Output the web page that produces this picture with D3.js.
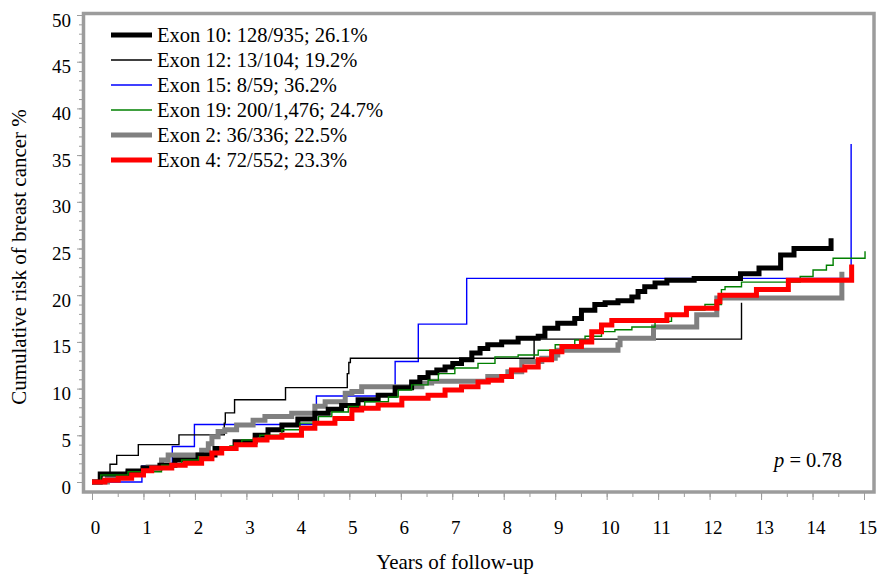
<!DOCTYPE html>
<html>
<head>
<meta charset="utf-8">
<script src="https://cdn.jsdelivr.net/npm/d3@7"></script>
<style>
  body { margin: 0; background: #fff; }
  text { font-family: "Liberation Serif", "Times New Roman", serif; fill: #000; }
</style>
</head>
<body>
<svg id="km-svg" width="877" height="574"></svg>
<script>
// step points [years, cumulative %]
var exon10 = [[0,0],[0.16,0.86],[0.7,1.18],[0.99,1.5],[1.32,1.8],[1.61,2.35],[2.06,2.9],[2.39,3.6],[2.78,4.3],
  [3.17,5.0],[3.42,5.6],[3.69,6.1],[4.0,6.75],[4.33,7.35],[4.59,7.8],[4.85,8.2],[5.17,8.8],[5.56,9.3],[5.89,10.1],
  [6.21,10.7],[6.37,11.2],[6.53,11.7],[6.7,12.0],[6.86,12.3],[7.01,12.7],[7.18,13.1],[7.38,13.8],[7.54,14.3],
  [7.69,14.7],[7.96,15.0],[8.28,15.4],[8.67,15.6],[8.8,16.45],[9.05,17.0],[9.38,17.5],[9.51,18.4],[9.77,19.0],
  [9.97,19.2],[10.22,19.4],[10.49,19.8],[10.61,20.4],[10.74,20.9],[10.94,21.3],[11.17,21.6],[11.7,21.8],
  [12.6,22.3],[12.96,22.9],[13.38,24.3],[13.64,25.0],[14.36,26.1]];
var exon12 = [[0,0],[0.17,1.0],[0.35,1.9],[0.48,2.85],[0.9,4.0],[1.69,5.05],[2.57,6.3],[2.59,7.4],[2.77,8.8],
  [3.76,10.1],[4.96,11.6],[4.99,12.8],[5.02,13.25],[8.59,15.3],[12.62,19.2]];
var exon15 = [[0,0],[0.97,1.75],[1.56,3.8],[1.99,6.15],[4.36,9.2],[5.89,12.9],[6.34,16.9],[7.28,21.8],[14.75,36.2]];
var exon19 = [[0,0],[0.17,0.75],[0.7,1.1],[1.35,1.8],[1.74,2.35],[2.07,2.7],[2.33,3.1],[2.52,3.4],[2.68,3.85],
  [2.91,4.5],[3.26,5.0],[3.69,5.6],[4.04,6.3],[4.4,7.0],[4.66,7.5],[4.98,8.1],[5.3,8.6],[5.76,9.1],[5.95,9.85],
  [6.21,10.4],[6.53,10.9],[6.73,11.6],[7.05,12.2],[7.5,12.7],[7.83,13.4],[8.28,13.6],[8.67,14.1],[9.0,14.7],
  [9.38,15.2],[9.58,15.6],[9.9,16.1],[10.16,16.3],[10.49,16.6],[10.94,17.2],[11.26,17.9],[11.52,18.4],
  [11.91,19.0],[12.23,20.6],[12.3,20.9],[12.62,21.4],[13.76,22.0],[14.01,22.7],[14.27,23.2],[14.4,23.95],[15.02,24.7]];
var exon2 = [[0,0],[0.3,0.5],[0.7,1.0],[1.0,1.5],[1.09,1.6],[1.35,2.35],[1.48,2.9],[2.13,3.4],[2.26,4.1],[2.33,4.85],
  [2.45,5.4],[2.58,5.6],[2.81,6.1],[3.13,6.6],[3.36,7.0],[3.88,7.35],[4.33,8.1],[4.53,8.6],[4.92,9.5],[5.05,9.7],
  [5.24,10.2],[6.41,10.6],[6.6,10.8],[7.69,11.3],[8.08,11.8],[8.35,12.9],[8.74,13.25],[9.0,13.6],[9.05,14.1],
  [10.22,14.7],[10.26,15.4],[10.91,16.6],[11.75,17.9],[12.14,19.7],[14.57,22.5]];
var exon4 = [[0,0],[0.25,0.2],[0.51,0.4],[0.77,0.75],[1.0,1.2],[1.16,1.5],[1.55,1.8],[1.81,2.0],[2.13,2.5],
  [2.33,3.1],[2.52,3.6],[2.8,4.0],[3.17,4.5],[3.4,4.8],[3.69,5.0],[4.07,5.75],[4.33,6.3],[4.72,6.8],[5.05,7.7],
  [5.24,7.9],[5.56,8.25],[6.02,8.96],[6.53,9.3],[6.86,9.85],[7.18,10.2],[7.5,10.7],[7.7,10.9],[7.96,11.3],
  [8.15,12.0],[8.41,12.3],[8.67,13.1],[8.93,13.95],[9.13,14.5],[9.51,15.0],[9.71,16.1],[9.9,16.8],[10.1,17.3],
  [11.17,17.9],[11.55,18.6],[12.14,19.3],[12.2,20.0],[12.91,20.6],[13.53,21.6],[14.76,23.3]];

var legendLabels = ["Exon 10: 128/935; 26.1%", "Exon 12: 13/104; 19.2%", "Exon 15: 8/59; 36.2%",
  "Exon 19: 200/1,476; 24.7%", "Exon 2: 36/336; 22.5%", "Exon 4: 72/552; 23.3%"];
var yTicks = [0,5,10,15,20,25,30,35,40,45,50];
var xTicks = [0,1,2,3,4,5,6,7,8,9,10,11,12,13,14,15];

var series = [
  {data: exon10, color: "#000000", width: 5},
  {data: exon12, color: "#000000", width: 1.4},
  {data: exon15, color: "#0000ff", width: 1.4},
  {data: exon19, color: "#008000", width: 1.4},
  {data: exon2,  color: "#808080", width: 5},
  {data: exon4,  color: "#ff0000", width: 5}
];
// draw order so red ends up on top, like the original
var drawOrder = [2, 1, 4, 0, 3, 5];

var svg = d3.select("#km-svg");

var x = d3.scaleLinear().domain([0, 15]).range([92, 864]);
var y = d3.scaleLinear().domain([0, 50]).range([482, 15]);

var frameColor = "#9c9c9c";

// y axis ticks, minor every 1 %
svg.append("g")
  .attr("transform", "translate(82,0)")
  .call(d3.axisLeft(y).tickValues(d3.range(0, 51, 1)).tickSize(3).tickFormat(""))
  .call(function(g){ g.select(".domain").remove(); g.selectAll("line").attr("stroke", frameColor); });

svg.append("g")
  .attr("transform", "translate(82,0)")
  .call(d3.axisLeft(y).tickValues(yTicks).tickSize(5).tickPadding(6))
  .call(function(g){
    g.select(".domain").remove();
    g.selectAll("line").attr("stroke", frameColor);
    g.selectAll("text").attr("font-size", 19).attr("font-family", "Liberation Serif")
      .attr("transform", "translate(0,5)");
  });

// x axis ticks, minor every half year
svg.append("g")
  .attr("transform", "translate(0,493)")
  .call(d3.axisBottom(x).tickValues(d3.range(0, 15.01, 0.5)).tickSize(4).tickFormat(""))
  .call(function(g){ g.select(".domain").remove(); g.selectAll("line").attr("stroke", frameColor); });

svg.append("g")
  .attr("transform", "translate(0,493)")
  .call(d3.axisBottom(x).tickValues(xTicks).tickSize(7).tickPadding(21))
  .call(function(g){
    g.select(".domain").remove();
    g.selectAll("line").attr("stroke", frameColor);
    g.selectAll("text").attr("font-size", 19).attr("font-family", "Liberation Serif")
      .attr("transform", "translate(3,0)");
  });

// frame
svg.append("rect")
  .attr("x", 83.5).attr("y", 13.5)
  .attr("width", 874 - 83.5).attr("height", 492 - 13.5)
  .attr("fill", "none")
  .attr("stroke", frameColor)
  .attr("stroke-width", 3.5);

var line = d3.line()
  .curve(d3.curveStepAfter)
  .x(function(d) { return x(d[0]); })
  .y(function(d) { return y(d[1]); });

drawOrder.forEach(function(i){
  var s = series[i];
  svg.append("path")
    .datum(s.data)
    .attr("fill", "none")
    .attr("stroke", s.color)
    .attr("stroke-width", s.width)
    .attr("stroke-linejoin", "miter")
    .attr("d", line);
});

// legend
var legend = svg.append("g").attr("class", "legend");
series.forEach(function(s, i){
  var ly = 35 + i * 25;
  legend.append("line")
    .attr("x1", 111).attr("x2", 152)
    .attr("y1", ly).attr("y2", ly)
    .attr("stroke", s.color)
    .attr("stroke-width", s.width);
  legend.append("text")
    .attr("x", 157).attr("y", ly)
    .attr("dy", "0.35em")
    .attr("font-size", 20.5)
    .text(legendLabels[i]);
});

// p value
var pText = svg.append("text")
  .attr("x", 774).attr("y", 467)
  .attr("font-size", 20.5);
pText.append("tspan").attr("font-style", "italic").text("p");
pText.append("tspan").text(" = 0.78");

// axis titles
svg.append("text")
  .attr("x", 455).attr("y", 569)
  .attr("text-anchor", "middle")
  .attr("font-size", 21)
  .text("Years of follow-up");

svg.append("text")
  .attr("transform", "translate(26,257) rotate(-90)")
  .attr("text-anchor", "middle")
  .attr("font-size", 21)
  .text("Cumulative risk of breast cancer %");
</script>
</body>
</html>
